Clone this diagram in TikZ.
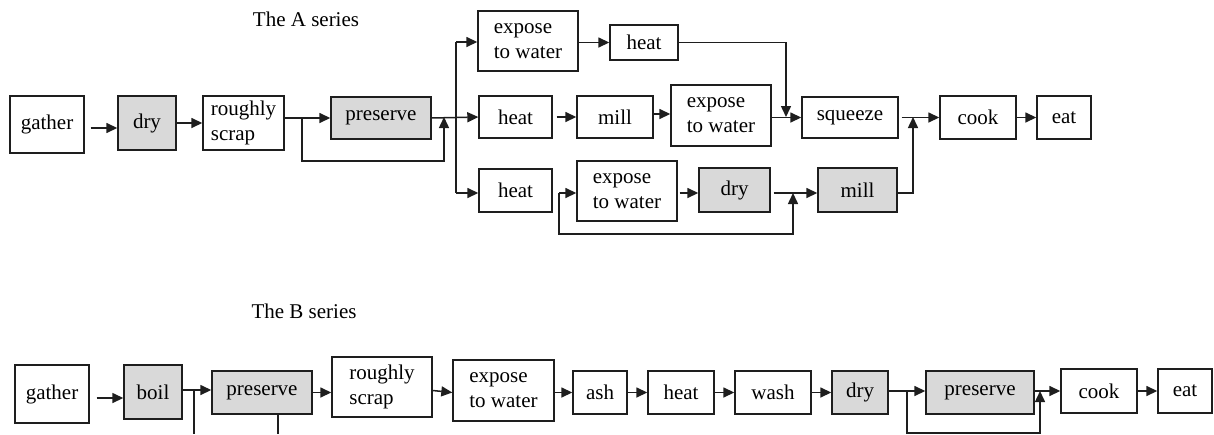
\documentclass[tikz,border=0pt]{standalone}
\usepackage{fontspec}
\setmainfont{Liberation Serif}
\usepackage{tikz}
\usetikzlibrary{arrows.meta}
\usepackage{xcolor}
\definecolor{ink}{RGB}{30,30,30}
\definecolor{shade}{RGB}{217,217,217}
\tikzset{
  stage/.style={draw=ink,fill=white,line width=0.7pt,inner sep=0pt,align=left,
    font=\fontsize{10.5}{12.4}\selectfont},
  kept/.style={stage,fill=shade},
  arr/.style={-{Triangle[length=5.5pt,width=5pt]},line width=0.75pt,ink},
  wire/.style={line width=0.75pt,ink},
  ttl/.style={anchor=base,font=\fontsize{10.5}{12.4}\selectfont},
}

\begin{document}
\begin{tikzpicture}[x=0.5pt,y=-0.5pt]
\useasboundingbox (0,0) rectangle (1214,434);
% A series: common start
\node[ttl] (ttlA) at (306,26) {The A series};
\node[stage,minimum width=37pt,minimum height=28.5pt] (gA) at (47,124.5) {gather};
\node[kept,minimum width=29pt,minimum height=27pt] (dA) at (147,123) {dry};
\node[stage,minimum width=40.5pt,minimum height=27pt] (sA) at (243.5,123) {roughly\\scrap};
\node[kept,minimum width=50pt,minimum height=21pt] (pA) at (381,118) {preserve};
\draw[arr] ([xshift=3pt,yshift=-1.75pt]gA.east) -- ([yshift=-2.5pt]dA.west);
\draw[arr] (dA) -- (sA);
\draw[arr] (sA.east |- pA.west) -- (pA.west);
\coordinate (fbA) at (302,161);
\coordinate (joinA) at (444,117);
\draw[arr] (fbA |- pA.west) -- (fbA) -| (joinA);
% A series: three branches
\coordinate (busT) at (456,42);
\coordinate (busB) at (456,193);
\draw[wire] (busT) -- (busB);
\node[stage,minimum width=50pt,minimum height=30pt] (wA1) at (528,41) {expose\\to water};
\node[stage,minimum width=34pt,minimum height=17.5pt] (hA1) at (644,42.5) {heat};
\node[stage,minimum width=36.5pt,minimum height=21pt] (hA2) at (515.5,117) {heat};
\node[stage,minimum width=38pt,minimum height=21pt] (mA2) at (615,117) {mill};
\node[stage,minimum width=50pt,minimum height=30.5pt] (wA2) at (721,115.5) {expose\\to water};
\node[stage,minimum width=48pt,minimum height=20.5pt] (sq) at (850,117.5) {squeeze};
\node[stage,minimum width=36.5pt,minimum height=21.5pt] (hA3) at (515.5,190.5) {heat};
\node[stage,minimum width=50pt,minimum height=30pt] (wA3) at (627,191) {expose\\to water};
\node[kept,minimum width=35.5pt,minimum height=22pt] (dA3) at (734.5,190) {dry};
\node[kept,minimum width=39.5pt,minimum height=22pt] (mA3) at (857.5,190) {mill};
\node[stage,minimum width=38pt,minimum height=21.5pt] (cA) at (978,117.5) {cook};
\node[stage,minimum width=27pt,minimum height=21.5pt] (eA) at (1064,117.5) {eat};
\draw[arr] (busT) -- (wA1.west |- busT);
\draw[arr] (pA.east) -- (hA2.west);
\draw[arr] (busB) -- (hA3.west |- busB);
% top branch
\coordinate (dropA) at (786,117);
\draw[arr] (wA1.east |- hA1.west) -- (hA1.west);
\draw[arr] (hA1.east) -| (dropA);
% middle branch
\draw[arr] ([xshift=2pt]hA2.east) -- (mA2.west);
\draw[arr] ([yshift=1.5pt]mA2.east) -- ([yshift=1.5pt]mA2.east -| wA2.west);
\draw[arr] (wA2.east |- sq.west) -- (sq.west);
% bottom branch
\coordinate (fbA3) at (559,234);
\coordinate (joinA3) at (793,193);
\draw[arr] (fbA3 |- joinA3) -- (wA3.west |- joinA3);
\draw[arr] (fbA3 |- joinA3) -- (fbA3) -| (joinA3);
\draw[arr] ([xshift=1pt]wA3.east |- joinA3) -- (dA3.west |- joinA3);
\draw[arr] ([xshift=1.5pt]dA3.east |- joinA3) -- (mA3.west |- joinA3);
\coordinate (joinA4) at (913,117);
\draw[arr] (mA3.east |- joinA3) -| (joinA4);
\draw[arr] ([xshift=1.5pt]sq.east) -- (cA.west);
\draw[arr] (cA) -- (eA);
% B series
\node[ttl] (ttlB) at (304,318) {The B series};
\node[stage,minimum width=37pt,minimum height=29pt] (gB) at (52,394) {gather};
\node[kept,minimum width=29pt,minimum height=27pt] (bB) at (153,392) {boil};
\node[kept,minimum width=50pt,minimum height=21.5pt] (pB1) at (262,392.5) {preserve};
\node[stage,minimum width=50pt,minimum height=30pt] (sB) at (382,387) {roughly\\scrap};
\node[stage,minimum width=50.5pt,minimum height=30.5pt] (wB) at (503.5,390.5) {expose\\to water};
\node[stage,minimum width=27pt,minimum height=21.5pt] (aB) at (600,392.5) {ash};
\node[stage,minimum width=33pt,minimum height=21.5pt] (hB) at (681,392.5) {heat};
\node[stage,minimum width=38pt,minimum height=21.5pt] (wsB) at (773,392.5) {wash};
\node[kept,minimum width=28pt,minimum height=21.5pt] (dB) at (860,392.5) {dry};
\node[kept,minimum width=54pt,minimum height=21.5pt] (pB2) at (980,392.5) {preserve};
\node[stage,minimum width=38pt,minimum height=22pt] (cB) at (1099,391) {cook};
\node[stage,minimum width=27pt,minimum height=22pt] (eB) at (1185,391) {eat};
\draw[arr] ([xshift=3.5pt,yshift=-2pt]gB.east) -- ([yshift=-3pt]bB.west);
\draw[arr] ([yshift=1pt]bB.east) -- ([yshift=1pt]bB.east -| pB1.west);
\coordinate (cutB1) at (194,434);
\coordinate (cutB2) at (278,434);
\draw[wire] ([yshift=1pt]bB.east -| cutB1) -- (cutB1);
\draw[wire] (pB1.south -| cutB2) -- (cutB2);
\draw[arr] (pB1.east) -- (pB1.east -| sB.west);
\draw[arr] (sB.east |- wB.west) -- ([yshift=-1pt]wB.west);
\draw[arr] ([yshift=-1pt]wB.east) -- (aB.west);
\draw[arr] (aB) -- (hB);
\draw[arr] (hB) -- (wsB);
\draw[arr] (wsB) -- (dB);
\coordinate (fbB) at (907,433);
\coordinate (joinB) at (1040,391);
\draw[arr] (dB.east |- joinB) -- (pB2.west |- joinB);
\draw[arr] (fbB |- joinB) -- (fbB) -| (joinB);
\draw[arr] (pB2.east |- joinB) -- (cB.west |- joinB);
\draw[arr] (cB) -- (eB);
\end{tikzpicture}
\end{document}
